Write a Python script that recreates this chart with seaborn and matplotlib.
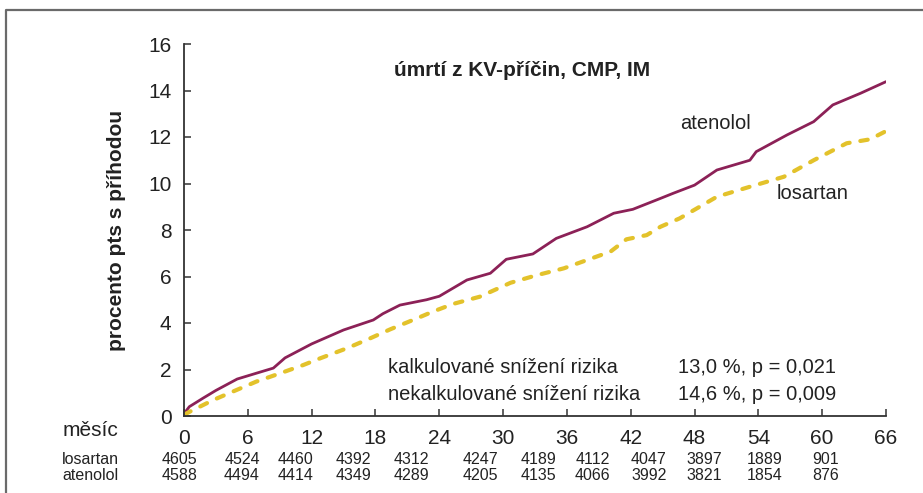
import numpy as np
import pandas as pd
import matplotlib
matplotlib.use("Agg")
import matplotlib.pyplot as plt
from matplotlib.lines import Line2D
import seaborn as sns

# ---- data ----
atenolol_month = [0, 0.5, 1.8, 3.0, 5.0, 6.8, 8.4, 9.5, 12.0, 15.0, 17.8, 18.7, 20.3,
                  22.8, 24.0, 26.6, 28.8, 30.3, 32.8, 35.0, 37.9, 40.4, 42.2, 44.8,
                  46.0, 48.0, 50.1, 53.2, 53.8, 56.7, 59.2, 61.0, 63.6, 66.0]
atenolol_pct = [0.1, 0.4, 0.77, 1.1, 1.59, 1.84, 2.06, 2.5, 3.1, 3.7, 4.13, 4.4, 4.77,
                5.0, 5.15, 5.85, 6.14, 6.74, 6.97, 7.64, 8.14, 8.72, 8.89, 9.36,
                9.58, 9.93, 10.58, 11.0, 11.37, 12.09, 12.66, 13.38, 13.88, 14.38]
losartan_month = [0, 0.56, 2.76, 4.95, 6.8, 9.0, 11.2, 12.8, 15.3, 17.5, 19.4, 21.9,
                  23.4, 25.3, 27.8, 30.7, 33.2, 35.7, 37.9, 40.1, 41.6, 43.5, 44.8,
                  46.6, 50.1, 53.2, 56.4, 59.2, 62.3, 64.5, 65.9]
losartan_pct = [0.05, 0.19, 0.69, 1.12, 1.48, 1.83, 2.19, 2.48, 2.91, 3.34, 3.73, 4.2,
                4.49, 4.82, 5.13, 5.73, 6.06, 6.35, 6.71, 7.07, 7.6, 7.78, 8.14,
                8.5, 9.43, 9.86, 10.29, 11.0, 11.73, 11.9, 12.23]

x_ticks = list(range(0, 67, 6))
y_ticks = list(range(0, 17, 2))

losartan_at_risk = ["4605", "4524", "4460", "4392", "4312", "4247", "4189", "4112",
                    "4047", "3897", "1889", "901"]
atenolol_at_risk = ["4588", "4494", "4414", "4349", "4289", "4205", "4135", "4066",
                    "3992", "3821", "1854", "876"]
# layout: horizontal positions (in months) of the at-risk numbers
at_risk_x = [-0.4, 5.45, 10.5, 15.95, 21.4, 27.9, 33.3, 38.4, 43.7, 48.9, 54.6, 60.3]

title = "úmrtí z KV-příčin, CMP, IM"
ylabel = "procento pts s příhodou"
stats_labels = ["kalkulované snížení rizika", "nekalkulované snížení rizika"]
stats_values = ["13,0 %, p = 0,021", "14,6 %, p = 0,009"]

# ---- style ----
sns.set_theme(style="white")
plt.rcParams["font.family"] = ["Liberation Sans", "DejaVu Sans"]

PURPLE = "#8c2157"
YELLOW = "#e3c22b"
TXT = "#222222"

W, H = 923, 493
fig = plt.figure(figsize=(W / 100, H / 100), dpi=100)
ax = fig.add_axes([184 / W, 1 - 416 / H, (886 - 184) / W, (416 - 44) / H])

df_a = pd.DataFrame({"month": atenolol_month, "pct": atenolol_pct})
df_l = pd.DataFrame({"month": losartan_month, "pct": losartan_pct})

sns.lineplot(data=df_a, x="month", y="pct", color=PURPLE, lw=2.0, ax=ax,
             estimator=None, sort=True)
sns.lineplot(data=df_l, x="month", y="pct", color=YELLOW, lw=3.0, ax=ax,
             estimator=None, sort=True)
ax.lines[1].set_linestyle((0, (1.8, 2.6)))
ax.lines[1].set_dash_capstyle("round")

ax.set_xlim(0, 66)
ax.set_ylim(0, 16)
ax.set_xticks(x_ticks)
ax.set_yticks(y_ticks)
ax.set_xlabel("")
ax.set_ylabel(ylabel, fontsize=15, fontweight="bold", color=TXT)
ax.yaxis.set_label_coords(-0.082, 0.5)

for s in ["top", "right"]:
    ax.spines[s].set_visible(False)
for s in ["left", "bottom"]:
    ax.spines[s].set_color("#333333")
    ax.spines[s].set_linewidth(1.3)

ax.tick_params(axis="both", direction="in", length=5, width=1.1, color="#333333",
               labelsize=15, labelcolor=TXT)
ax.tick_params(axis="x", pad=9, bottom=True)
ax.tick_params(axis="y", pad=9, left=True)

ax.text(0.481, 0.93, title, transform=ax.transAxes, ha="center", va="center",
        fontsize=15, fontweight="bold", color=TXT)

ax.text(46.6, 12.56, "atenolol", fontsize=14.5, color=TXT, ha="left", va="center")
ax.text(55.7, 9.55, "losartan", fontsize=14.5, color=TXT, ha="left", va="center")

for i, (lab, val) in enumerate(zip(stats_labels, stats_values)):
    yv = 2.1 - 1.16 * i
    ax.text(19.2, yv, lab, fontsize=14.5, color=TXT, ha="left", va="center")
    ax.text(46.4, yv, val, fontsize=14.5, color=TXT, ha="left", va="center")

trans = ax.get_xaxis_transform()
for xv, l, a in zip(at_risk_x, losartan_at_risk, atenolol_at_risk):
    ax.text(xv, (416 - 459) / 372, l, transform=trans, ha="center", va="center",
            fontsize=11.5, color=TXT, clip_on=False)
    ax.text(xv, (416 - 475) / 372, a, transform=trans, ha="center", va="center",
            fontsize=11.5, color=TXT, clip_on=False)

fig.text(63 / W, 1 - 431 / H, "měsíc", fontsize=15, color=TXT, ha="left", va="center")
fig.text(62 / W, 1 - 459 / H, "losartan", fontsize=11.5, color=TXT, ha="left", va="center")
fig.text(62 / W, 1 - 475 / H, "atenolol", fontsize=11.5, color=TXT, ha="left", va="center")

# outer frame (top and left edges)
fig.add_artist(Line2D([5.5 / W, 5.5 / W, 1.0], [0.0, 1 - 9.5 / H, 1 - 9.5 / H],
                      transform=fig.transFigure, color="#6a6a6a", lw=1.6))

fig.savefig("out.png", dpi=100)
